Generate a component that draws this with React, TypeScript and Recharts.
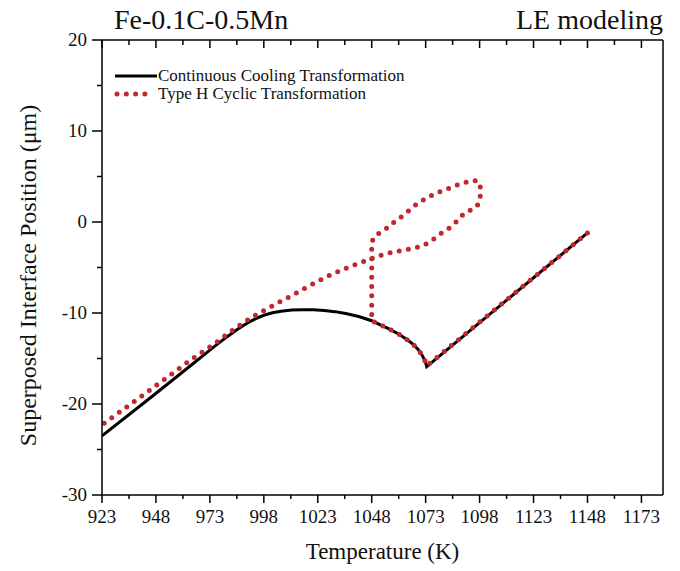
import React from 'react';
import { LineChart, Line, XAxis, YAxis, Legend } from 'recharts';

const FONT = '"Liberation Serif", "Times New Roman", serif';

const xMajorTicks = [923, 948, 973, 998, 1023, 1048, 1073, 1098, 1123, 1148, 1173];
const xAllTicks = [923, 935.5, 948, 960.5, 973, 985.5, 998, 1010.5, 1023, 1035.5, 1048, 1060.5, 1073, 1085.5, 1098, 1110.5, 1123, 1135.5, 1148, 1160.5, 1173];
const yMajorTicks = [-30, -20, -10, 0, 10, 20];
const yAllTicks = [-30, -25, -20, -15, -10, -5, 0, 5, 10, 15, 20];

const seriesNames = ['Continuous Cooling Transformation', 'Type H Cyclic Transformation'];

// Continuous cooling transformation (path from 1148 K downward)
const ccTemp = [1148, 1073.5, 1072.8, 1071.5, 1069.5, 1067, 1064, 1060, 1056, 1052, 1048, 1042, 1036, 1031, 1026, 1021, 1016, 1011, 1006, 1002, 998, 994, 990, 986, 981, 975, 965, 945, 923];
const ccPos = [-1.2, -15.9, -15.3, -14.7, -14.0, -13.4, -12.85, -12.25, -11.75, -11.3, -10.85, -10.38, -10.05, -9.85, -9.72, -9.65, -9.63, -9.68, -9.8, -9.98, -10.25, -10.65, -11.15, -11.75, -12.6, -13.7, -15.6, -19.4, -23.5];

// Type H cyclic transformation (path order)
const chTemp = [1148, 1073.6, 1072.8, 1071.5, 1069.5, 1067, 1064, 1060, 1056, 1052, 1048, 1048, 1049.5, 1051.5, 1054.5, 1058.2, 1061.8, 1065.6, 1069.3, 1073.3, 1077.5, 1081.8, 1086.3, 1090.6, 1095.3, 1097.5, 1098.3, 1098.4, 1098.1, 1096.5, 1094.5, 1090.6, 1087.3, 1083.7, 1079.8, 1076, 1071.8, 1067.2, 1062.5, 1057.9, 1053.6, 1048, 1038, 1029, 1020, 1010, 1002, 994, 988, 982, 975, 965, 945, 923];
const chPos = [-1.2, -15.8, -15.3, -14.7, -14.0, -13.4, -12.85, -12.25, -11.75, -11.3, -10.85, -2.2, -1.6, -1.2, -0.77, -0.04, 0.58, 1.32, 2.05, 2.6, 3.15, 3.5, 3.96, 4.3, 4.55, 4.45, 4.0, 3.2, 2.2, 1.7, 1.4, 0.88, 0.04, -0.7, -1.3, -2.0, -2.6, -2.9, -3.1, -3.3, -3.55, -4.0, -4.9, -5.8, -6.9, -8.2, -9.2, -10.25, -11.15, -12.15, -13.4, -15.0, -18.5, -22.3];

const ccData = ccTemp.map((t, i) => ({ t, v: ccPos[i] }));
const chData = chTemp.map((t, i) => ({ t, v: chPos[i] }));

const RED = '#c1272d';

const BottomTick = (props: any) => {
  const { x, y, payload } = props;
  const major = xMajorTicks.includes(payload.value);
  return (
    <g>
      <line x1={x} x2={x} y1={y} y2={y + (major ? 8 : 4)} stroke="#000" strokeWidth={1.5} />
      {major && (
        <text x={x} y={y + 28} textAnchor="middle" fontSize={19} fontFamily={FONT} fill="#111">
          {payload.value}
        </text>
      )}
    </g>
  );
};

const TopTick = (props: any) => {
  const { x, y, payload } = props;
  const major = xMajorTicks.includes(payload.value);
  return <line x1={x} x2={x} y1={y} y2={y + (major ? 8 : 5)} stroke="#000" strokeWidth={1.5} />;
};

const LeftTick = (props: any) => {
  const { x, y, payload } = props;
  const major = yMajorTicks.includes(payload.value);
  return (
    <g>
      <line x1={x} x2={x - (major ? 10 : 5)} y1={y} y2={y} stroke="#000" strokeWidth={1.5} />
      {major && (
        <text x={x - 15} y={y + 6} textAnchor="end" fontSize={19} fontFamily={FONT} fill="#111">
          {payload.value}
        </text>
      )}
    </g>
  );
};

const renderLegend = () => (
  <div style={{ fontFamily: FONT, fontSize: 17, color: '#111', lineHeight: '18px' }}>
    <div style={{ display: 'flex', alignItems: 'center' }}>
      <svg width={48} height={18}>
        <line x1={5} x2={47} y1={9} y2={9} stroke="#000" strokeWidth={3} />
      </svg>
      <span>{seriesNames[0]}</span>
    </div>
    <div style={{ display: 'flex', alignItems: 'center' }}>
      <svg width={48} height={18}>
        <line x1={7} x2={36} y1={9} y2={9} stroke={RED} strokeWidth={5} strokeDasharray="0 9.3" strokeLinecap="round" />
      </svg>
      <span>{seriesNames[1]}</span>
    </div>
  </div>
);

export default function App() {
  return (
    <div style={{ position: 'absolute', left: 0, top: 0, width: 680, height: 571, background: '#fff' }}>
      <div style={{ position: 'absolute', left: 114, top: 3, fontFamily: FONT, fontSize: 28, color: '#111', whiteSpace: 'nowrap', lineHeight: '34px' }}>
        Fe-0.1C-0.5Mn
      </div>
      <div style={{ position: 'absolute', right: 17, top: 3, fontFamily: FONT, fontSize: 28, color: '#111', whiteSpace: 'nowrap', lineHeight: '34px' }}>
        LE modeling
      </div>
      <LineChart width={680} height={571} margin={{ top: 39, right: 16, bottom: 0, left: 0 }}>
        <XAxis
          dataKey="t"
          type="number"
          domain={[923, 1183]}
          ticks={xAllTicks}
          interval={0}
          allowDataOverflow
          height={76}
          tickSize={0}
          tickMargin={0}
          tickLine={false}
          tick={<BottomTick />}
          axisLine={{ stroke: '#000', strokeWidth: 1.5 }}
          label={{ value: 'Temperature (K)', position: 'insideBottom', offset: 12, fontSize: 23, fontFamily: FONT, fill: '#111' }}
        />
        <XAxis
          xAxisId="top"
          orientation="top"
          dataKey="t"
          type="number"
          domain={[923, 1183]}
          ticks={xAllTicks}
          interval={0}
          allowDataOverflow
          height={1}
          tickSize={0}
          tickMargin={0}
          tickLine={false}
          tick={<TopTick />}
          axisLine={{ stroke: '#000', strokeWidth: 1.5 }}
        />
        <YAxis
          dataKey="v"
          type="number"
          domain={[-30, 20]}
          ticks={yAllTicks}
          interval={0}
          allowDataOverflow
          width={102}
          tickSize={0}
          tickMargin={0}
          tickLine={false}
          tick={<LeftTick />}
          axisLine={{ stroke: '#000', strokeWidth: 1.5 }}
          label={{
            content: (p: any) => {
              const vb = p.viewBox;
              const cx = 28;
              const cy = vb.y + vb.height / 2 + 8;
              return (
                <text x={cx} y={cy} transform={`rotate(-90, ${cx}, ${cy})`} textAnchor="middle" dominantBaseline="central" fontSize={24} fontFamily={FONT} fill="#111">
                  Superposed Interface Position (μm)
                </text>
              );
            },
          }}
        />
        <YAxis
          yAxisId="right"
          orientation="right"
          type="number"
          domain={[-30, 20]}
          width={1}
          tick={false}
          tickLine={false}
          axisLine={{ stroke: '#000', strokeWidth: 1.5 }}
        />
        <Legend
          layout="vertical"
          align="center"
          verticalAlign="middle"
          wrapperStyle={{ left: 110, top: 67, width: 330 }}
          content={renderLegend}
        />
        <Line
          data={ccData}
          dataKey="v"
          name={seriesNames[0]}
          type="linear"
          stroke="#000"
          strokeWidth={3}
          dot={false}
          isAnimationActive={false}
        />
        <Line
          data={chData}
          dataKey="v"
          name={seriesNames[1]}
          type="linear"
          stroke={RED}
          strokeWidth={5}
          strokeDasharray="0 9.3"
          strokeLinecap="round"
          dot={false}
          isAnimationActive={false}
        />
      </LineChart>
    </div>
  );
}
